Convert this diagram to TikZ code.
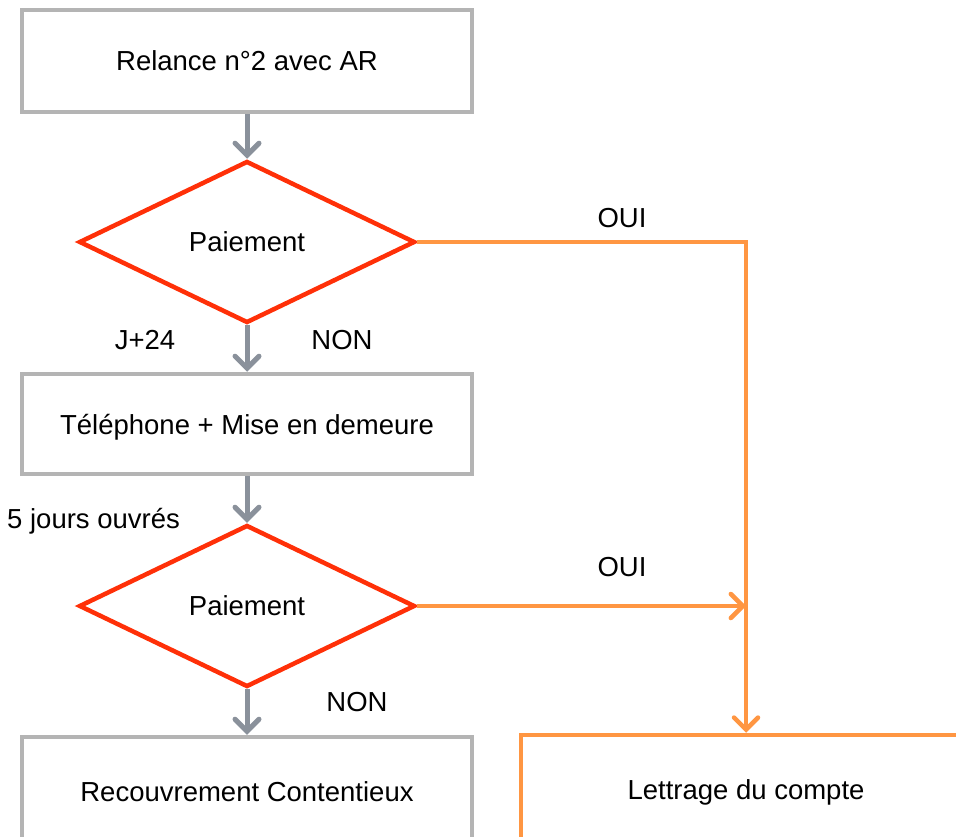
\documentclass[tikz,border=0pt]{standalone}
\usepackage{fontspec}
\setmainfont{Liberation Sans}
\usetikzlibrary{shapes.geometric,arrows.meta}
\definecolor{boxgray}{RGB}{180,180,180}
\definecolor{flowgray}{RGB}{138,145,155}
\definecolor{testred}{RGB}{255,48,8}
\definecolor{okorange}{RGB}{255,150,66}

\begin{document}
\begin{tikzpicture}[x=1pt,y=-1pt,font=\fontsize{27.5}{32}\selectfont]
\tikzstyle{stepbox}=[draw=boxgray,line width=4.5pt,rectangle,minimum width=450pt,minimum height=102pt,inner sep=0pt,text depth=0pt]
\tikzstyle{endbox}=[stepbox,draw=okorange]
\tikzstyle{test}=[draw=testred,line width=4.5pt,diamond,minimum width=336pt,minimum height=162pt,inner sep=0pt,text depth=0pt]
\tikzstyle{flow}=[draw=flowgray,line width=5pt,-{Straight Barb[length=12pt,width=24pt,line cap=round]}]
\tikzstyle{yes}=[flow,draw=okorange,line width=4.5pt]
\tikzstyle{tag}=[inner sep=0pt]
\clip (0,0) rectangle (956,837);
% steps
\node[stepbox] (relance) at (247,61) {Relance n°2 avec AR};
\node[test] (pay1) at (247,242) {Paiement};
\node[stepbox,minimum height=100pt] (phone) at (247,424) {Téléphone + Mise en demeure};
\node[test] (pay2) at (247,606) {Paiement};
\node[stepbox,minimum height=110pt] (court) at (247,792) {Recouvrement Contentieux};
\node[endbox,minimum height=110pt] (lettrage) at (746,790) {Lettrage du compte};
% labels
\node[tag] (oui1) at (622,218) {OUI};
\node[tag] (j24) at (145,340) {J+24};
\node[tag] (non1) at (342,340) {NON};
\node[tag,anchor=west] (delay) at (7,521) {5 jours ouvrés};
\node[tag] (oui2) at (622,567) {OUI};
\node[tag] (non2) at (357,702) {NON};
% connectors
\draw[flow] (relance.south) -- (pay1.north);
\draw[flow] (pay1.south) -- (phone.north);
\draw[flow] (phone.south) -- (pay2.north);
\draw[flow] (pay2.south) -- (court.north);
\draw[yes] (pay1.east) -| (lettrage.north);
\draw[yes] (pay2.east) -- (pay2.east -| lettrage.north);
\end{tikzpicture}
\end{document}
